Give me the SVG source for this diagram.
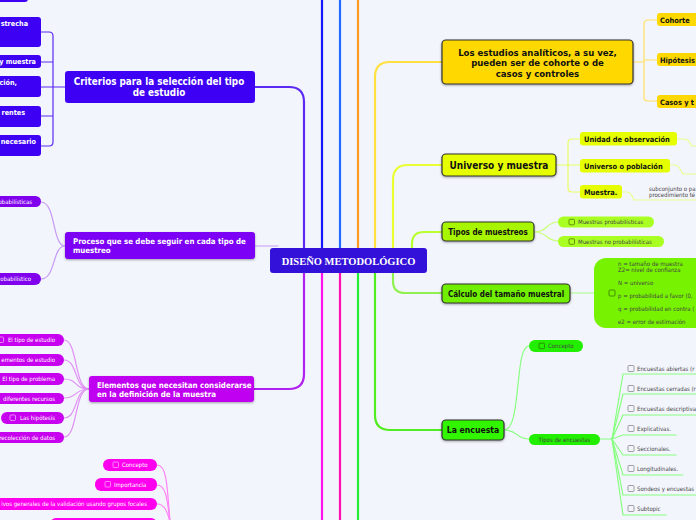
<svg xmlns="http://www.w3.org/2000/svg" width="696" height="520" viewBox="0 0 696 520">
<style>
.lbl{font-family:"DejaVu Sans Condensed","DejaVu Sans",sans-serif;font-weight:bold}
.sm{font-family:"DejaVu Sans Condensed","DejaVu Sans",sans-serif;font-size:6px}
.w{fill:#fff}
.k{fill:#111}
.g{fill:#444}
.c{fill:none;stroke-width:1.2;stroke-linecap:round}
.v{fill:none;stroke-width:2.2}
.box{stroke:#333;stroke-width:1.2}
.chk{fill:none;stroke-width:0.8}
</style>
<defs>
<filter id="sh" x="-10%" y="-20%" width="120%" height="150%"><feDropShadow dx="0" dy="1" stdDeviation="0.8" flood-color="#000" flood-opacity="0.35"/></filter>
</defs>
<rect width="696" height="520" fill="#f3f5fd"/>

<g id="connectors">
<path class="v" stroke="#1616ff" d="M322,248V0"/>
<path class="v" stroke="#1f6cff" d="M340,248V0"/>
<path class="v" stroke="#ff9a1f" d="M358,248V0"/>
<path class="v" stroke="#5a2af2" d="M304,248V102Q304,87 289,87H255"/>
<path class="v" stroke="#ffe040" d="M375,248V77Q375,62 390,62H442"/>
<path class="v" stroke="#eaff30" d="M393,248V180Q393,165 408,165H442"/>
<path class="v" stroke="#b8ff30" d="M412,248V244Q412,232 424,232H442"/>
<path class="v" stroke="#ff10ee" d="M322,273V520"/>
<path class="v" stroke="#ff10b0" d="M340,273V520"/>
<path class="v" stroke="#22ee33" d="M358,273V520"/>
<path class="v" stroke="#b020f0" d="M304,273V374Q304,389 289,389H254"/>
<path class="v" stroke="#50ee20" d="M375,273V415Q375,430 390,430H442"/>
<path class="v" stroke="#90f050" d="M393,273V281Q393,293 405,293H442"/>
<path class="c" stroke="#c69af5" d="M255,246H278"/>

<path class="c" stroke="#5a2af2" d="M65,87H53M41,32H49Q53,32 53,36V142Q53,146 49,146H41M41,62H53M41,87H53M41,116H53"/>
<path class="c" stroke="#c69af5" d="M65,246C52,246 56,202 41,202M65,246C52,246 56,279 41,279"/>
<g class="c" stroke="#e090f5">
<path d="M89,389C74,389 78,340 64,340"/>
<path d="M89,389C74,389 78,360 64,360"/>
<path d="M89,389C74,389 78,379 64,379"/>
<path d="M89,389C74,389 78,398 64,398"/>
<path d="M89,389C74,389 78,418 64,418"/>
<path d="M89,389C74,389 78,437 64,437"/>
</g>
<g class="c" stroke="#ff80f5">
<path d="M157,465C166,465 167,480 170,522"/>
<path d="M157,485C165,485 167,495 170,522"/>
<path d="M157,504C164,504 167,510 170,522"/>
</g>
<path class="c" stroke="#ffe060" d="M633,62H644M657,20H648Q644,20 644,24V97Q644,101 648,101H657M644,60H657"/>
<path class="c" stroke="#eaff60" d="M556,165H568M580,139H572Q568,139 568,143V188Q568,192 572,192H580M568,165H580"/>
<path class="c" stroke="#eaff90" d="M677,139H684Q688,139 690,143L692,146H696M670,165H674Q678,165 680,169L683,174H696M622,192H626Q630,192 632,196L634,200H696"/>
<path class="c" stroke="#c8ff70" d="M534,232C548,232 546,222 558,222M534,232C548,232 546,241 558,241"/>
<path class="c" stroke="#a8ff80" d="M570,293H594"/>
<path class="c" stroke="#88ff80" d="M504,430C522,430 514,346 529,346M504,430C518,430 516,439 529,439"/>
<path class="c" stroke="#88ff80" d="M600,439H612"/>
<g class="c" stroke="#88ff80">
<path d="M612,439L623,374H696"/>
<path d="M612,439L623,394H696"/>
<path d="M612,439L623,415H696"/>
<path d="M612,439L623,435H676"/>
<path d="M612,439L623,455H676"/>
<path d="M612,439L623,475H683"/>
<path d="M612,439L623,495H696"/>
<path d="M612,439L623,515H666"/>
</g>
</g>

<g id="center">
<rect x="270" y="248" width="157" height="25" rx="3" fill="#3311d9"/>
<text x="348.5" y="264.5" text-anchor="middle" font-family="'Liberation Serif',serif" font-weight="bold" font-size="10.5" fill="#fff">DISEÑO METODOLÓGICO</text>
</g>

<g id="n-top-left"><rect x="-10" y="-20" width="38" height="22" rx="3" fill="#3d00f5"/></g>

<g id="criterios">
<rect x="65" y="71" width="190" height="32" rx="3" fill="#3d00f5"/>
<text class="lbl w" x="159" y="85" text-anchor="middle" font-size="9.8">Criterios para la selección del tipo</text>
<text class="lbl w" x="159" y="96" text-anchor="middle" font-size="9.8">de estudio</text>
</g>
<g id="crit-1"><rect x="-10" y="17" width="51" height="30" rx="3" fill="#3d00f5"/><text class="lbl w" x="28" y="26" text-anchor="end" font-size="7.2">strecha</text></g>
<g id="crit-2"><rect x="-10" y="55" width="51" height="13" rx="3" fill="#3d00f5"/><text class="lbl w" x="36" y="64" text-anchor="end" font-size="7.2">y muestra</text></g>
<g id="crit-3"><rect x="-10" y="76" width="51" height="21" rx="3" fill="#3d00f5"/><text class="lbl w" x="17" y="85" text-anchor="end" font-size="7.2">ción,</text></g>
<g id="crit-4"><rect x="-10" y="106" width="51" height="21" rx="3" fill="#3d00f5"/><text class="lbl w" x="25" y="115" text-anchor="end" font-size="7.2">rentes</text></g>
<g id="crit-5"><rect x="-10" y="135" width="51" height="21" rx="3" fill="#3d00f5"/><text class="lbl w" x="36" y="144" text-anchor="end" font-size="7.2">necesario</text></g>

<g id="proceso">
<rect x="65" y="232" width="190" height="27" rx="3" fill="#7b00f5" filter="url(#sh)"/>
<text class="lbl w" x="73" y="243.5" font-size="7.8">Proceso que se debe seguir en cada tipo de</text>
<text class="lbl w" x="73" y="253" font-size="7.8">muestreo</text>
</g>
<g id="proc-1"><rect x="-10" y="196" width="51" height="11" rx="5.5" fill="#8000ee"/><text class="sm w" x="32" y="203.5" text-anchor="end" font-size="5">obabilísticas</text></g>
<g id="proc-2"><rect x="-10" y="273" width="51" height="12" rx="6" fill="#8000ee"/><text class="sm w" x="31" y="281" text-anchor="end" font-size="5.4">obabilístico</text></g>

<g id="elementos">
<rect x="89" y="376" width="165" height="26" rx="3" fill="#c000f0" filter="url(#sh)"/>
<text class="lbl w" x="97" y="387.5" font-size="7.9">Elementos que necesitan considerarse</text>
<text class="lbl w" x="97" y="397" font-size="7.9">en la definición de la muestra</text>
</g>
<g id="el-1"><rect x="-10" y="334" width="74" height="12" rx="6" fill="#c800f0"/><rect class="chk" stroke="#f0a0ff" x="-2" y="337" width="5.5" height="5.5" rx="1"/><text class="sm w" x="55" y="342" text-anchor="end">El tipo de estudio</text></g>
<g id="el-2"><rect x="-10" y="354" width="74" height="12" rx="6" fill="#c800f0"/><text class="sm w" x="55" y="362" text-anchor="end">ementos de estudio</text></g>
<g id="el-3"><rect x="-10" y="373" width="74" height="12" rx="6" fill="#c800f0"/><text class="sm w" x="55" y="381" text-anchor="end">El tipo de problema</text></g>
<g id="el-4"><rect x="-10" y="393" width="74" height="11" rx="5.5" fill="#c800f0"/><text class="sm w" x="55" y="400.5" text-anchor="end">diferentes recursos</text></g>
<g id="el-5"><rect x="1" y="412" width="63" height="12" rx="6" fill="#c800f0"/><rect class="chk" stroke="#f0a0ff" x="10" y="415" width="5.5" height="5.5" rx="1"/><text class="sm w" x="55" y="420" text-anchor="end">Las hipótesis</text></g>
<g id="el-6"><rect x="-10" y="432" width="74" height="11" rx="5.5" fill="#c800f0"/><text class="sm w" x="55" y="439.5" text-anchor="end">recolección de datos</text></g>

<g id="bl-1"><rect x="103" y="459" width="54" height="12" rx="6" fill="#ff00ee"/><rect class="chk" stroke="#ffa0ff" x="113" y="462" width="5.5" height="5.5" rx="1"/><text class="sm w" x="122" y="467">Concepto</text></g>
<g id="bl-2"><rect x="95" y="478" width="62" height="13" rx="6" fill="#ff00ee"/><rect class="chk" stroke="#ffa0ff" x="105" y="481.5" width="5.5" height="5.5" rx="1"/><text class="sm w" x="114" y="486.5">Importancia</text></g>
<g id="bl-3"><rect x="-10" y="498" width="167" height="12" rx="6" fill="#ff00ee"/><text class="sm w" x="147" y="506" text-anchor="end">ivos generales de la validación usando grupos focales</text></g>
<g id="bl-4"><rect x="50" y="518" width="107" height="12" rx="6" fill="#ff00ee"/></g>

<g id="analiticos">
<rect class="box" x="442" y="40" width="191" height="44" rx="4" fill="#ffd800" filter="url(#sh)"/>
<text class="lbl k" x="537.5" y="55.5" text-anchor="middle" font-size="9.5">Los estudios analíticos, a su vez,</text>
<text class="lbl k" x="537.5" y="66" text-anchor="middle" font-size="9.5">pueden ser de cohorte o de</text>
<text class="lbl k" x="537.5" y="76.5" text-anchor="middle" font-size="9.5">casos y controles</text>
</g>
<g id="cohorte"><rect x="657" y="13" width="45" height="13" rx="3" fill="#ffd800"/><text class="lbl k" x="660" y="22.5" font-size="7.4">Cohorte</text></g>
<g id="hipotesis"><rect x="657" y="53" width="45" height="13" rx="3" fill="#ffd800"/><text class="lbl k" x="660" y="62.5" font-size="7.4">Hipótesis</text></g>
<g id="casos"><rect x="657" y="95" width="45" height="13" rx="3" fill="#ffd800"/><text class="lbl k" x="660" y="104.5" font-size="7.4">Casos y t</text></g>

<g id="universo">
<rect class="box" x="442" y="154" width="114" height="22" rx="4" fill="#e5ff00" filter="url(#sh)"/>
<text class="lbl k" x="499" y="168.5" text-anchor="middle" font-size="10">Universo y muestra</text>
</g>
<g id="unidad"><rect x="580" y="132" width="97" height="13.5" rx="3" fill="#e5ff00"/><text class="lbl k" x="584" y="141.5" font-size="7.4">Unidad de observación</text></g>
<g id="univ-pob"><rect x="580" y="159" width="90" height="13.5" rx="3" fill="#e5ff00"/><text class="lbl k" x="584" y="168.5" font-size="7.4">Universo o población</text></g>
<g id="muestra"><rect x="580" y="185" width="42" height="13.5" rx="3" fill="#e5ff00"/><text class="lbl k" x="584" y="194.5" font-size="7.4">Muestra.</text></g>
<g id="muestra-def"><text class="sm g" x="649" y="191" font-size="5.2">subconjunto o pa</text><text class="sm g" x="649" y="197" font-size="5.2">procedimiento té</text></g>

<g id="tipos-muestreo">
<rect class="box" x="442" y="222" width="92" height="19" rx="4" fill="#a8f500" filter="url(#sh)"/>
<text class="lbl k" x="488" y="234.5" text-anchor="middle" font-size="8">Tipos de muestreos</text>
</g>
<g id="m-prob"><rect x="558" y="216.5" width="96" height="11" rx="5.5" fill="#aaff22"/><rect class="chk" stroke="#557700" x="569" y="219.3" width="5.5" height="5.5" rx="1"/><text class="sm g" x="578" y="224.3">Muestras probabilísticas</text></g>
<g id="m-noprob"><rect x="558" y="236" width="106" height="11" rx="5.5" fill="#aaff22"/><rect class="chk" stroke="#557700" x="569" y="238.8" width="5.5" height="5.5" rx="1"/><text class="sm g" x="578" y="243.8">Muestras  no probabilísticas</text></g>

<g id="calculo">
<rect class="box" x="442" y="284" width="128" height="19" rx="4" fill="#70f000" filter="url(#sh)"/>
<text class="lbl k" x="506" y="296.5" text-anchor="middle" font-size="8">Cálculo del tamaño muestral</text>
</g>
<g id="formula">
<rect x="594" y="258" width="120" height="70" rx="12" fill="#77f200"/>
<rect class="chk" stroke="#3a7a00" x="609" y="290" width="6" height="6" rx="1"/>
<text class="sm g" x="618" y="266">n = tamaño de muestra</text>
<text class="sm g" x="618" y="272">Z2= nivel de confianza</text>
<text class="sm g" x="618" y="285">N = universo</text>
<text class="sm g" x="618" y="298">p = probabilidad a favor (0,</text>
<text class="sm g" x="618" y="311">q = probabilidad en contra (</text>
<text class="sm g" x="618" y="323.5">e2 = error de estimación</text>
</g>

<g id="encuesta">
<rect class="box" x="442" y="420" width="62" height="20" rx="4" fill="#33f500" filter="url(#sh)"/>
<text class="lbl k" x="473" y="433" text-anchor="middle" font-size="8.6">La encuesta</text>
</g>
<g id="enc-concepto"><rect x="529" y="340" width="54" height="12" rx="6" fill="#22ee00"/><rect class="chk" stroke="#2a7a00" x="539" y="343.2" width="5.5" height="5.5" rx="1"/><text class="sm g" x="548" y="348.2">Concepto</text></g>
<g id="enc-tipos"><rect x="529" y="434" width="71" height="11" rx="5.5" fill="#22ee00"/><text class="sm g" x="564.5" y="441.5" text-anchor="middle">Tipos de encuestas</text></g>
<g id="enc-items">
<g fill="none" stroke="#888" stroke-width="0.8">
<rect x="628" y="365.5" width="6" height="6" rx="1"/>
<rect x="628" y="385.5" width="6" height="6" rx="1"/>
<rect x="628" y="405.5" width="6" height="6" rx="1"/>
<rect x="628" y="425.5" width="6" height="6" rx="1"/>
<rect x="628" y="445.5" width="6" height="6" rx="1"/>
<rect x="628" y="465.5" width="6" height="6" rx="1"/>
<rect x="628" y="485.5" width="6" height="6" rx="1"/>
<rect x="628" y="505.5" width="6" height="6" rx="1"/>
</g>
<text class="sm g" x="637" y="371">Encuestas abiertas (r</text>
<text class="sm g" x="637" y="391">Encuestas cerradas (r</text>
<text class="sm g" x="637" y="411">Encuestas descriptiva</text>
<text class="sm g" x="637" y="431">Explicativas.</text>
<text class="sm g" x="637" y="451">Seccionales.</text>
<text class="sm g" x="637" y="471">Longitudinales.</text>
<text class="sm g" x="637" y="491">Sondeos y encuestas</text>
<text class="sm g" x="637" y="511">Subtopic</text>
</g>
</svg>
